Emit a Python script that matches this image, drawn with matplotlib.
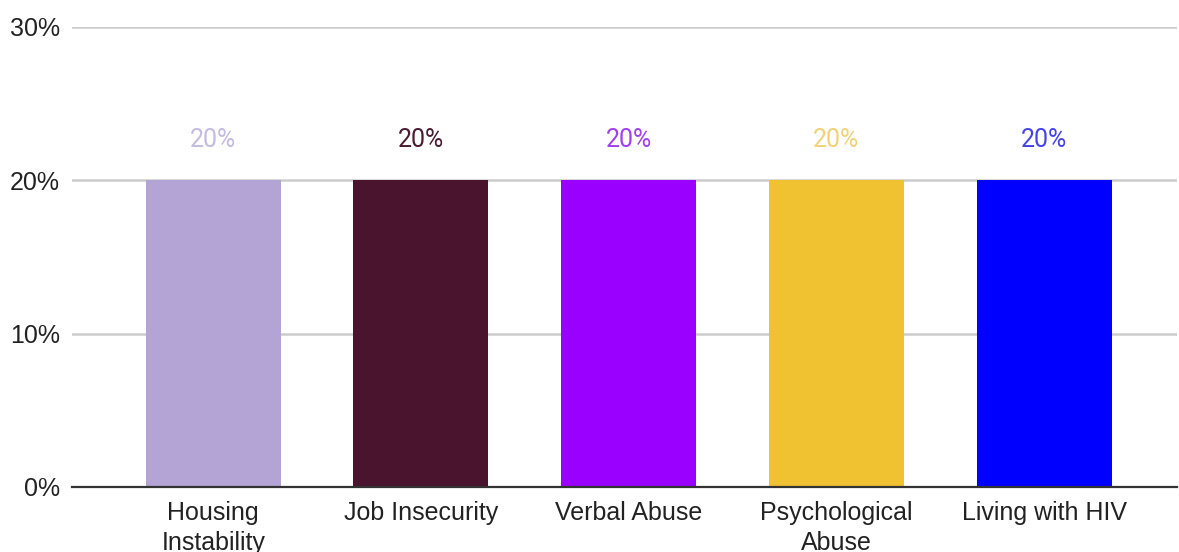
import matplotlib.pyplot as plt
from matplotlib.ticker import FuncFormatter

categories = ["Housing\nInstability", "Job Insecurity", "Verbal Abuse",
              "Psychological\nAbuse", "Living with HIV"]
values = [20, 20, 20, 20, 20]
bar_colors = ["#b4a3d5", "#4a132e", "#9a00ff", "#f0c232", "#0000fe"]
label_colors = ["#c3bbe0", "#4a1a33", "#a040ee", "#f2d277", "#4444e6"]

fig = plt.figure(figsize=(11.79, 5.52), dpi=100)
ax = fig.add_axes([72 / 1179, 65 / 552, 1105 / 1179, 460 / 552])

x = range(len(categories))
ax.bar(x, values, width=0.65, color=bar_colors, zorder=3)

for i, v in enumerate(values):
    ax.text(i, v + 2.6, f"{v}%", ha="center", va="center", fontsize=18,
            family="Roboto", color=label_colors[i], zorder=4)

ax.set_ylim(0, 30)
ax.set_xlim(-0.68, 4.64)
ax.set_yticks([0, 10, 20, 30])
ax.yaxis.set_major_formatter(FuncFormatter(lambda v, _: f"{v:.0f}%"))
ax.set_xticks(list(x))
ax.set_xticklabels(categories, fontsize=18, family="Liberation Sans",
                   color="#222222", linespacing=1.3)
for lab in ax.get_yticklabels():
    lab.set_fontsize(18)
    lab.set_family("Liberation Sans")
    lab.set_color("#222222")
ax.tick_params(axis="both", length=0)
ax.tick_params(axis="y", pad=8.5)
ax.tick_params(axis="x", pad=10)

ax.grid(axis="y", color="#cccccc", linewidth=1.8, zorder=0)
for s in ["top", "right", "left"]:
    ax.spines[s].set_visible(False)
ax.spines["bottom"].set_color("#333333")
ax.spines["bottom"].set_linewidth(1.6)
ax.spines["bottom"].set_zorder(5)

fig.savefig("out.png", dpi=100)
plt.close()
